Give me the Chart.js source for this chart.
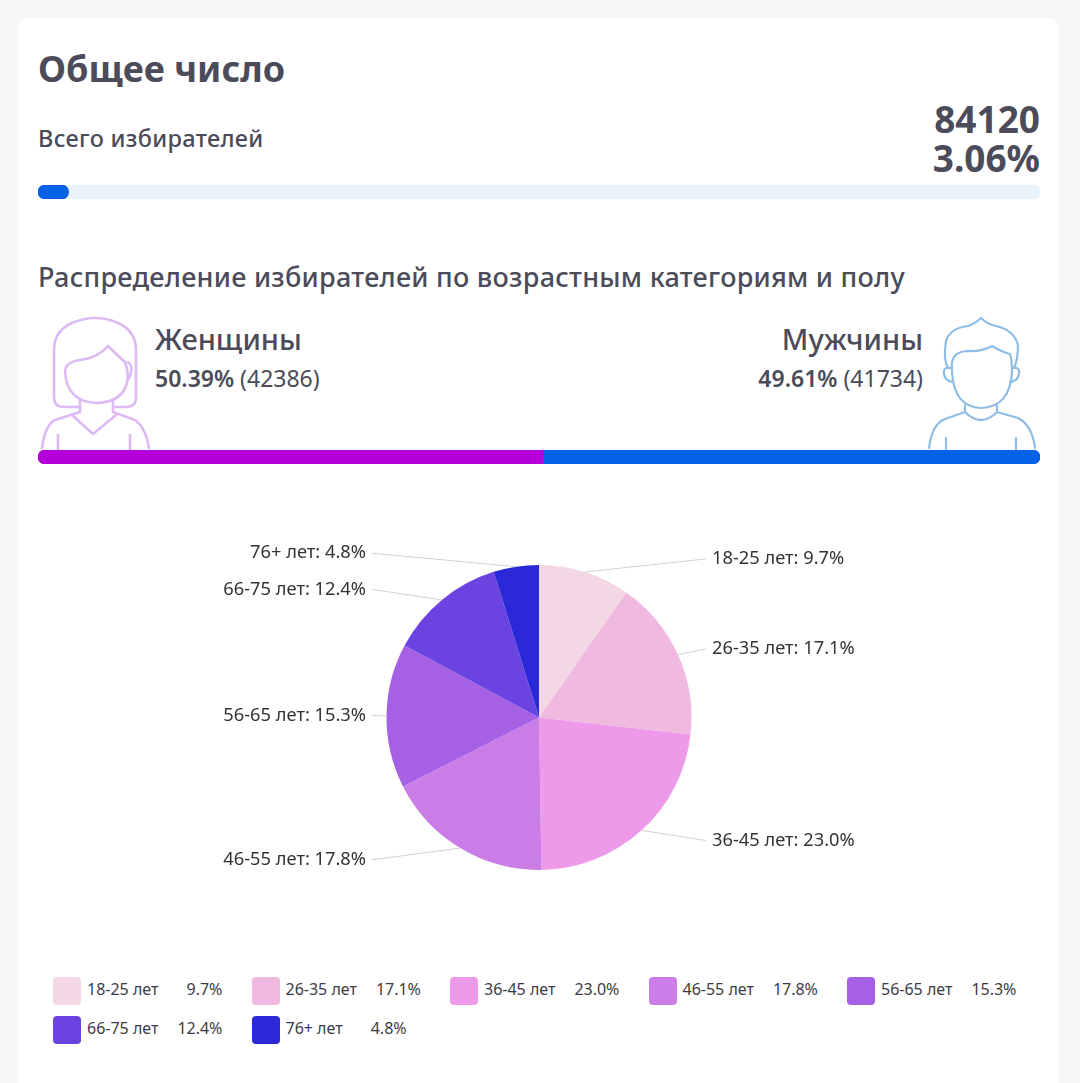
<!DOCTYPE html>
<html>
<head>
<meta charset="utf-8">
<script src="https://cdn.jsdelivr.net/npm/chart.js@4"></script>
<style>
html, body { margin: 0; padding: 0; background: #f6f6f6; }
body { width: 1080px; height: 1083px; position: relative; overflow: hidden; font-family: "Noto Sans", sans-serif; color: #4b4b59; }
#card { position: absolute; left: 18px; top: 18px; width: 1040px; height: 1080px; background: #fff; border-radius: 9px; }
.t { position: absolute; white-space: nowrap; line-height: 1; }
.r { text-align: right; }
canvas { position: absolute; }
svg { position: absolute; left: 0; top: 0; }
.legend-item { position: absolute; display: flex; align-items: center; font-size: 16px; color: #3c3c46; height: 28px; line-height: 24px; }
.legend-item i { width: 28px; height: 28px; border-radius: 4px; margin-right: 6px; display: block; }
.legend-item span, .legend-item b { position: relative; top: -2px; }
.legend-item b { font-weight: 400; width: 64px; text-align: right; display: block; }
</style>
</head>
<body>
<div id="card"></div>

<div class="t" style="left:38px;top:51px;font-size:36px;font-weight:700">Общее число</div>
<div class="t" style="left:38px;top:127px;font-size:23.5px;font-weight:500;letter-spacing:.3px">Всего избирателей</div>
<div class="t r" style="right:40px;top:100px;font-size:37px;font-weight:700" id="total"></div>
<div class="t r" style="right:40px;top:139px;font-size:37px;font-weight:700" id="share"></div>
<canvas id="shareBar" style="left:38px;top:185px"></canvas>

<div class="t" style="left:38px;top:263px;font-size:27px;font-weight:500;letter-spacing:.26px">Распределение избирателей по возрастным категориям и полу</div>
<div class="t" style="left:155px;top:324px;font-size:29px;font-weight:500">Женщины</div>
<div class="t" style="left:155px;top:367px;font-size:23px" id="female"></div>
<div class="t r" style="right:157px;top:324px;font-size:29px;font-weight:500">Мужчины</div>
<div class="t r" style="right:157px;top:367px;font-size:23px" id="male"></div>

<svg width="1080" height="470" fill="none" stroke-linecap="round" stroke-linejoin="round">
  <g stroke="#dcbbf4" stroke-width="2.6">
    <path d="M80 407H64Q54 407 54 397V350Q54 331 72 323Q95 313 118 323Q136 331 136 350V397Q136 407 126 407H113"/>
    <path d="M65 372Q65 362 80 360Q98 358 108 346Q118 356 125 362Q128 370 128 378Q125 402 97 403Q67 402 65 372Z"/>
    <path d="M128 362Q133 366 131 372Q130 378 127 380"/>
    <path d="M80 399V412L55 420Q45 425 42 448M113 399V412L135 420Q146 428 149 448"/>
    <path d="M72 415L93 434L116 415M58 435V449M130 435V449"/>
  </g>
  <g stroke="#8fbde6" stroke-width="2.2">
    <path d="M946 341Q943 360 948 368M946 341Q950 328 968 326Q976 323 981 318Q987 324 996 326Q1014 330 1018 345Q1018 360 1014 368"/>
    <path d="M952 372V362Q954 352 966 351Q982 352 992 346Q1002 352 1010 354Q1012 360 1012 372Q1010 407 981 408Q954 407 952 372Z"/>
    <path d="M951 368Q943 366 944 374Q945 381 953 382M1012 368Q1020 366 1019 374Q1018 381 1010 382"/>
    <path d="M965 405V412Q981 428 997 412V405M965 412L945 419Q932 424 929 448M997 412L1018 418Q1032 425 1035 448M946 438V449M1016 438V449"/>
  </g>
</svg>
<canvas id="genderBar" style="left:38px;top:450px"></canvas>

<canvas id="pie" style="left:-2px;top:500px"></canvas>
<div id="legend"></div>

<script>
const ageLabels = ["18-25 лет", "26-35 лет", "36-45 лет", "46-55 лет", "56-65 лет", "66-75 лет", "76+ лет"];
const agePercents = [9.7, 17.1, 23.0, 17.8, 15.3, 12.4, 4.8];
const ageColours = ["#f4d7e5", "#f0b9df", "#ec9ae9", "#ca7de6", "#a660e3", "#6b43e0", "#2b28d8"];

const totalVoters = 84120;
const totalShare = 3.06;
const genderPercents = [50.39, 49.61];
const genderCounts = [42386, 41734];

document.getElementById("total").textContent = totalVoters;
document.getElementById("share").textContent = totalShare.toFixed(2) + "%";
document.getElementById("female").innerHTML = `<span style="font-weight:600">${genderPercents[0]}%</span> (${genderCounts[0]})`;
document.getElementById("male").innerHTML = `<span style="font-weight:600">${genderPercents[1]}%</span> (${genderCounts[1]})`;

Chart.defaults.animation = false;
Chart.defaults.responsive = false;

function sizeCanvas(id, w, h) {
    let el = document.getElementById(id);
    el.width = w;
    el.height = h;
    el.style.width = w + "px";
    el.style.height = h + "px";
    return el.getContext("2d");
}

const hiddenScales = (stacked) => ({
    x: { display: false, min: 0, max: 100, stacked: stacked },
    y: { display: false, stacked: stacked }
});

// thin progress bar with a pale track behind it
new Chart(sizeCanvas("shareBar", 1002, 14), {
    type: "bar",
    data: {
        labels: ["share"],
        datasets: [
            { data: [totalShare], backgroundColor: "#0662e8", borderRadius: 7, borderSkipped: false, order: 0 },
            { data: [100], backgroundColor: "#ebf3fa", borderRadius: 7, borderSkipped: false, order: 1 }
        ]
    },
    options: {
        indexAxis: "y",
        grouped: false,
        barPercentage: 1,
        categoryPercentage: 1,
        layout: { padding: 0 },
        scales: hiddenScales(false),
        plugins: { legend: false, tooltip: { enabled: false } }
    }
});

new Chart(sizeCanvas("genderBar", 1002, 14), {
    type: "bar",
    data: {
        labels: ["gender"],
        datasets: [
            { data: [genderPercents[0]], backgroundColor: "#b600d9", borderRadius: { topLeft: 7, bottomLeft: 7 }, borderSkipped: false },
            { data: [genderPercents[1]], backgroundColor: "#0662e8", borderRadius: { topRight: 7, bottomRight: 7 }, borderSkipped: false }
        ]
    },
    options: {
        indexAxis: "y",
        barPercentage: 1,
        categoryPercentage: 1,
        scales: hiddenScales(true),
        plugins: { legend: false, tooltip: { enabled: false } }
    }
});

// leader lines and outside labels, placed from each arc's own angle
const outsideLabels = {
    id: "outsideLabels",
    afterDatasetsDraw(chart) {
        let ctx = chart.ctx;
        ctx.save();
        ctx.font = '18.3px "Noto Sans"';
        ctx.textBaseline = "middle";
        chart.getDatasetMeta(0).data.forEach((arc, i) => {
            let mid = (arc.startAngle + arc.endAngle) / 2;
            let cx = arc.x, cy = arc.y, r = arc.outerRadius;
            let right = Math.cos(mid) >= 0;
            let labelY = cy + Math.sin(mid) * r * 1.09;
            let lineEnd = cx + (right ? 167 : -167);
            ctx.strokeStyle = "#d2d2d2";
            ctx.lineWidth = 1;
            ctx.beginPath();
            ctx.moveTo(cx + Math.cos(mid) * r, cy + Math.sin(mid) * r);
            ctx.lineTo(lineEnd, labelY);
            ctx.stroke();
            ctx.fillStyle = "#333";
            ctx.textAlign = right ? "left" : "right";
            ctx.fillText(`${ageLabels[i]}: ${agePercents[i].toFixed(1)}%`, lineEnd + (right ? 6 : -6), labelY);
        });
        ctx.restore();
    }
};

new Chart(sizeCanvas("pie", 1082, 435), {
    type: "pie",
    data: {
        labels: ageLabels,
        datasets: [{ data: agePercents, backgroundColor: ageColours, borderWidth: 0 }]
    },
    options: {
        layout: { padding: 65 },
        plugins: { legend: false, tooltip: { enabled: false } }
    },
    plugins: [outsideLabels]
});

ageLabels.forEach((label, i) => {
    let item = document.createElement("div");
    item.className = "legend-item";
    item.style.left = (53 + (i % 5) * 198.5) + "px";
    item.style.top = (977 + Math.floor(i / 5) * 39) + "px";
    item.innerHTML = `<i style="background:${ageColours[i]}"></i><span>${label}</span><b>${agePercents[i].toFixed(1)}%</b>`;
    document.getElementById("legend").appendChild(item);
});
</script>
</body>
</html>
